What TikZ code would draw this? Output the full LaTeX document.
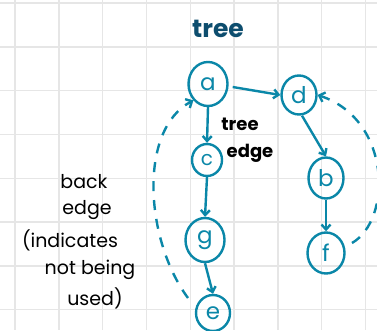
\documentclass[tikz,border=0pt]{standalone}
\usepackage{fontspec}
\setmainfont{Poppins}
\usetikzlibrary{shapes.geometric,arrows.meta}
\definecolor{teal1}{HTML}{0A87A8}
\definecolor{navy1}{HTML}{0D4D6E}
\definecolor{grid1}{HTML}{E6E6E6}
\tikzset{
  vert/.style={ellipse,draw=teal1,line width=2.4pt,text=teal1,font=\fontsize{23}{23}\selectfont,inner sep=0pt},
  tedge/.style={draw=teal1,line width=2.4pt,-{Straight Barb[length=5pt,width=9pt]}},
  bedge/.style={draw=teal1,line width=2.4pt,dash pattern=on 10pt off 9pt,-{Straight Barb[length=5pt,width=10pt]}},
  note/.style={font=\fontsize{19}{19}\selectfont,text=black,inner sep=0pt}
}
\begin{document}
\begin{tikzpicture}[x=1pt,y=-1pt]
\useasboundingbox (0,0) rectangle (377,330);
\fill[white] (0,0) rectangle (377,330);
\foreach \i in {0,...,8} {
  \draw[grid1,line width=1.4pt] ({15+43.8*\i},0) -- ({15+43.8*\i},330);
}
\foreach \j in {0,...,7} {
  \draw[grid1,line width=1.4pt] (0,{3+43.8*\j}) -- (377,{3+43.8*\j});
}
\node[font=\fontsize{25}{25}\selectfont\bfseries,text=navy1,inner sep=0pt] (title) at (218,29) {tree};
\node[vert,minimum width=39pt,minimum height=44pt] (a) at (208,84) {a};
\node[vert,minimum width=35pt,minimum height=39pt] (d) at (299,95) {d};
\node[vert,minimum width=30pt,minimum height=32pt,font=\fontsize{20}{20}\selectfont] (c) at (207,160) {c};
\node[vert,minimum width=35pt,minimum height=41pt] (b) at (326,178) {b};
\node[vert,minimum width=39pt,minimum height=44pt] (g) at (205,240) {g};
\node[vert,minimum width=37pt,minimum height=41pt] (f) at (326,253) {f};
\node[vert,minimum width=34pt,minimum height=36pt] (e) at (213,313) {e};
\draw[tedge] (a.east) ++(4,3) coordinate (a1) -- (d.west);
\draw[tedge] (a.south) -- (c.north);
\draw[tedge] (c.south) -- (g.north);
\draw[tedge] (g.south) -- (e.north);
\draw[tedge] (d.south) ++(3,0) coordinate (d1) -- (b.north);
\draw[tedge] (b.south) -- (f.north);
\coordinate (e1) at (188,298);
\draw[bedge] (e1) .. controls (145,240) and (138,130) .. (a.south west);
\coordinate (f1) at (352,243);
\draw[bedge] (f1) .. controls (392,220) and (392,120) .. (d.east);
\node[note,font=\fontsize{18}{18}\selectfont\bfseries] (t1) at (240,124) {tree};
\node[note,font=\fontsize{18}{18}\selectfont\bfseries] (t2) at (250,153) {edge};
\node[note] (l1) at (84,182) {back};
\node[note] (l2) at (87,210) {edge};
\node[note] (l3) at (70,240) {(indicates};
\node[note] (l4) at (90,270) {not being};
\node[note] (l5) at (95,298) {used)};
\end{tikzpicture}
\end{document}
